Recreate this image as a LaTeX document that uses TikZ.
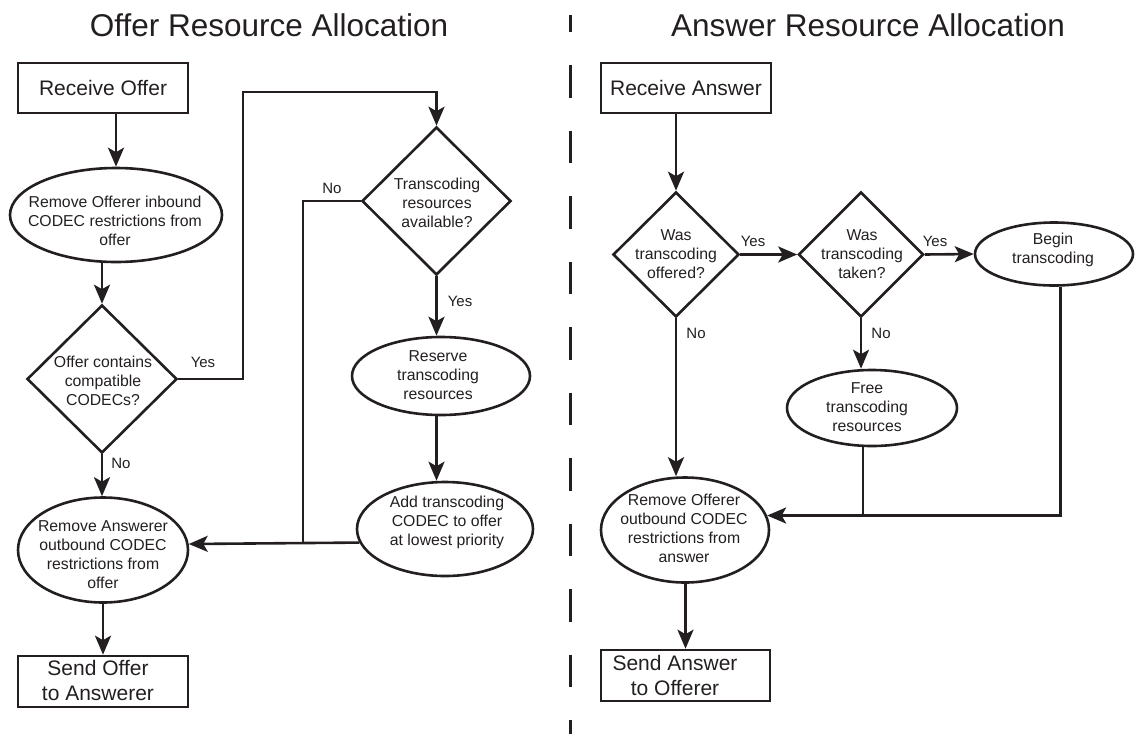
\documentclass[tikz,border=0pt]{standalone}
\usepackage{fontspec}
\setmainfont{Liberation Sans}
\usetikzlibrary{shapes.geometric,arrows.meta}
\definecolor{ink}{HTML}{231F20}
\begin{document}
\begin{tikzpicture}[x=1pt,y=-1pt,
  line width=2.6pt, draw=ink, text=ink,
  arr/.style={-{Stealth[length=19pt,width=16pt,inset=4.5pt]}},
  ell/.style={draw, ellipse, inner sep=0pt},
  dia/.style={draw, diamond, inner sep=0pt},
  boxnode/.style={draw, rectangle, inner sep=0pt},
  txt/.style={align=center, font=\fontsize{15.8}{19}\selectfont, inner sep=0pt},
  btxt/.style={align=center, font=\fontsize{21}{25}\selectfont, inner sep=0pt},
  lbl/.style={font=\fontsize{15}{18}\selectfont, inner sep=0pt},
  ttl/.style={font=\fontsize{31.5}{36}\selectfont, inner sep=0pt, anchor=base},
]
\useasboundingbox (0,0) rectangle (1135,734);

% titles
\node[ttl] (t1) at (269,36) {Offer Resource Allocation};
\node[ttl] (t2) at (868,36) {Answer Resource Allocation};

% divider
\coordinate (dvA) at (570.5,15);
\coordinate (dvB) at (570.5,734);
\draw[line width=2.5pt, dash pattern=on 32.5pt off 33pt, dash phase=15.5pt] (dvA) -- (dvB);

% ---------- left side ----------
\node[boxnode, btxt, minimum width=170pt, minimum height=50pt] (ro) at (103,88) {Receive Offer};
\node[ell, minimum width=212pt, minimum height=94pt] (e1) at (116,215) {};
\node[txt] at (115,221) {Remove Offerer inbound\\CODEC restrictions from\\offer};
\node[dia, minimum width=150pt, minimum height=148pt] (d1) at (102,379) {};
\node[txt] at (103,381) {Offer contains\\compatible\\CODECs?};
\node[dia, minimum width=149pt, minimum height=148pt] (d2) at (436.5,201) {};
\node[txt] at (437,203) {Transcoding\\resources\\available?};
\node[ell, minimum width=178pt, minimum height=78pt] (res) at (441,376) {};
\node[txt] at (438,375) {Reserve\\transcoding\\resources};
\node[ell, minimum width=176pt, minimum height=94pt] (add) at (445,529) {};
\node[txt] at (447,522) {Add transcoding\\CODEC to offer\\at lowest priority};
\node[ell, minimum width=170pt, minimum height=105pt] (rem2) at (103,550) {};
\node[txt] at (103,555) {Remove Answerer\\outbound CODEC\\restrictions from\\offer};
\node[boxnode, minimum width=170pt, minimum height=51pt] (so) at (103,681.5) {};
\node[btxt] at (98,680.5) {Send Offer\\to Answerer};

\node[lbl] (l1) at (203,362) {Yes};
\node[lbl] (l2) at (332,188) {No};
\node[lbl] (l3) at (460,301) {Yes};
\node[lbl] (l4) at (121,463) {No};

\coordinate (ya) at (243,92);
\coordinate (nj) at (303,543);

\draw[arr] (ro.south -| e1.north) -- (e1.north);
\draw[arr] (e1.south -| d1.north) -- (d1.north);
\draw[arr] (d1.east) -| (ya) -| (d2.north);
\draw (d2.west) -| (nj);
\draw[arr] (add.189.5) -- (rem2.4.8);
\draw[arr] (d2.south) -- (d2.south |- res.north);
\draw[arr] (d2.south |- res.south) -- (d2.south |- add.north);
\draw[arr] (d1.south) -- (d1.south |- rem2.north);
\draw[arr] (rem2.south) -- (so.north);

% ---------- right side ----------
\node[boxnode, btxt, minimum width=170pt, minimum height=50pt] (ra) at (686,88) {Receive Answer};
\node[dia, minimum width=126pt, minimum height=125pt] (d3) at (676,254.5) {};
\node[txt] at (676,254) {Was\\transcoding\\offered?};
\node[dia, minimum width=125pt, minimum height=125pt] (d4) at (861,254.5) {};
\node[txt] at (862,254) {Was\\transcoding\\taken?};
\node[ell, minimum width=158pt, minimum height=63pt] (beg) at (1054,254) {};
\node[txt] at (1053,250) {Begin\\transcoding};
\node[ell, minimum width=170pt, minimum height=76pt] (free) at (872,408) {};
\node[txt] at (867,407) {Free\\transcoding\\resources};
\node[ell, minimum width=168pt, minimum height=105pt] (rem3) at (685,530) {};
\node[txt] at (684,528) {Remove Offerer\\outbound CODEC\\restrictions from\\answer};
\node[boxnode, minimum width=169pt, minimum height=51pt] (sa) at (685.5,675.5) {};
\node[btxt] at (675,675.5) {Send Answer\\to Offerer};

\node[lbl] (l5) at (753,241) {Yes};
\node[lbl] (l6) at (935,241) {Yes};
\node[lbl] (l7) at (696,333) {No};
\node[lbl] (l8) at (881,333) {No};

\coordinate (fj) at (863,515);

\draw[arr] (ra.south -| d3.north) -- (d3.north);
\draw[arr] (d3.east) -- (d4.west);
\draw[arr] (d4.east) -- (beg.west);
\draw[arr] (d3.south) -- (d3.south |- rem3.north);
\draw[arr] (d4.south) -- (d4.south |- free.north);
\draw (free.south -| fj) -- (fj);
\draw[arr] (beg.-79) |- (rem3.10.6);
\draw[arr] (rem3.south -| sa.north) -- (sa.north);
\end{tikzpicture}
\end{document}
